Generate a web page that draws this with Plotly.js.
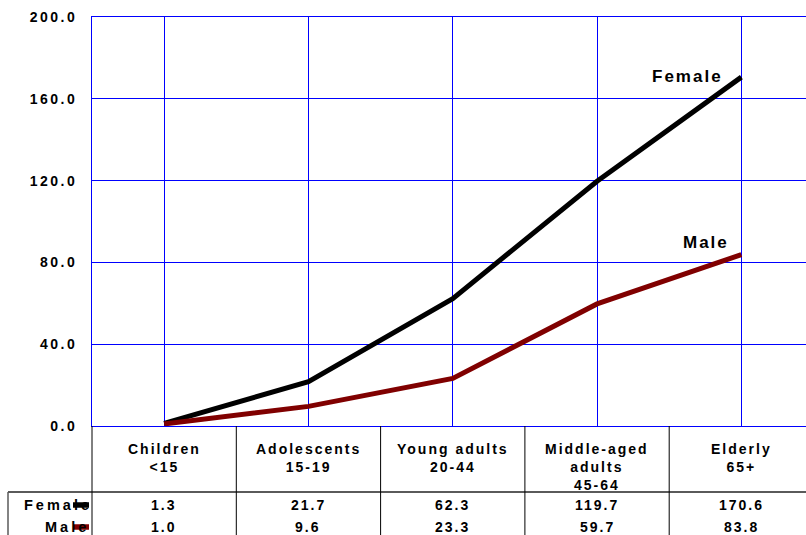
<!DOCTYPE html>
<html>
<head>
<meta charset="utf-8">
<script src="https://cdn.plot.ly/plotly-3.0.1.min.js"></script>
<style>
  html, body { margin: 0; padding: 0; background: #fff; }
  #chart { width: 806px; height: 535px; }
  .main-svg text { letter-spacing: 2px; }
  .ytick text { letter-spacing: 2.5px; }
  .rowlabel text, text.rowlabel { letter-spacing: 3px; }
</style>
</head>
<body>
<div id="chart"></div>
<script>
// ---- data ----
const categories = ['Children<br>&lt;15', 'Adolescents<br>15-19', 'Young adults<br>20-44', 'Middle-aged<br>adults<br>45-64', 'Elderly<br>65+'];
const seriesNames = ['Female', 'Male'];
const female = [1.3, 21.7, 62.3, 119.7, 170.6];
const male = [1.0, 9.6, 23.3, 59.7, 83.8];
const yTicks = [0, 40, 80, 120, 160, 200];

// ---- layout helpers ----
const W = 806, H = 535;
const M = {l: 92, r: 0, t: 17, b: 109};
const plotW = W - M.l - M.r, plotH = H - M.t - M.b;
const xRange = [-0.5, -0.5 + plotW / 144.3];
const xToPaper = v => (v - xRange[0]) / (xRange[1] - xRange[0]);
const pxToPaper = px => (px - M.l) / plotW;
const pyToPaper = py => (H - M.b - py) / plotH;

const colors = {Female: '#000000', Male: '#800000'};
const font = (size, color) => ({family: 'Liberation Sans, Arial, sans-serif', size: size, color: color || '#000', weight: 'bold'});

const traces = [
  {x: categories, y: female, name: seriesNames[0], type: 'scatter', mode: 'lines',
   line: {color: colors.Female, width: 5}, hoverinfo: 'skip', cliponaxis: false},
  {x: categories, y: male, name: seriesNames[1], type: 'scatter', mode: 'lines',
   line: {color: colors.Male, width: 5}, hoverinfo: 'skip', cliponaxis: false}
];

const annotations = [];
// series labels near line ends
annotations.push({x: categories[4], y: female[4], xref: 'x', yref: 'y', text: 'Female',
  showarrow: false, xanchor: 'right', yanchor: 'middle', xshift: -22, yshift: 1, font: font(17)});
annotations.push({x: categories[4], y: male[4], xref: 'x', yref: 'y', text: 'Male',
  showarrow: false, xanchor: 'right', yanchor: 'middle', xshift: -14, yshift: 12, font: font(17)});

// table header (category labels)
categories.forEach((c, i) => {
  annotations.push({x: c, xref: 'x', y: pyToPaper(439), yref: 'paper', text: c,
    showarrow: false, xanchor: 'center', yanchor: 'top', align: 'center', font: font(14)});
});
// table rows
const rows = [[seriesNames[0], female, 505], [seriesNames[1], male, 527]];
rows.forEach(([name, vals, py]) => {
  annotations.push({x: pxToPaper(85), xref: 'paper', y: pyToPaper(py), yref: 'paper', text: name,
    showarrow: false, xanchor: 'right', yanchor: 'middle', font: font(14.5), name: 'rowlabel'});
  vals.forEach((v, i) => {
    annotations.push({x: categories[i], xref: 'x', y: pyToPaper(py), yref: 'paper', text: v.toFixed(1),
      showarrow: false, xanchor: 'center', yanchor: 'middle', font: font(14)});
  });
});

const shapes = [];
// horizontal table separator
shapes.push({type: 'line', xref: 'paper', yref: 'paper', x0: pxToPaper(8), x1: 1,
  y0: pyToPaper(492), y1: pyToPaper(492), line: {color: '#5a5a5a', width: 2}});
// left border of row labels
shapes.push({type: 'line', xref: 'paper', yref: 'paper', x0: pxToPaper(8), x1: pxToPaper(8),
  y0: pyToPaper(492), y1: pyToPaper(540), line: {color: '#5a5a5a', width: 1.5}});
// column separators
for (let i = -1; i < categories.length - 1; i++) {
  const xp = xToPaper(i + 0.5);
  shapes.push({type: 'line', xref: 'paper', yref: 'paper', x0: xp, x1: xp,
    y0: 0, y1: pyToPaper(540), line: {color: '#000', width: 1}});
}
// legend key samples in table
rows.forEach(([name, vals, py]) => {
  shapes.push({type: 'line', xref: 'paper', yref: 'paper', x0: pxToPaper(73), x1: pxToPaper(89),
    y0: pyToPaper(py), y1: pyToPaper(py), line: {color: colors[name], width: 5.5}});
});

const layout = {
  width: W, height: H,
  margin: M,
  paper_bgcolor: '#fff', plot_bgcolor: '#fff',
  showlegend: false,
  xaxis: {type: 'category', range: xRange, showgrid: true, gridcolor: '#0000ff', gridwidth: 1,
    showticklabels: false, ticks: '', showline: true, linecolor: '#0000ff', linewidth: 1, mirror: true,
    zeroline: false, fixedrange: true},
  yaxis: {range: [0, 200], tickvals: yTicks, tickformat: '.1f', showgrid: true, gridcolor: '#0000ff',
    gridwidth: 1, zeroline: true, zerolinecolor: '#0000ff', zerolinewidth: 1, showline: true,
    linecolor: '#0000ff', linewidth: 1, ticks: '', ticklabelstandoff: 11, tickfont: font(14), fixedrange: true},
  annotations: annotations,
  shapes: shapes
};

Plotly.newPlot('chart', traces, layout, {staticPlot: true, displayModeBar: false}).then(gd => {
  // wider letter spacing for the two row labels of the table
  gd.querySelectorAll('.annotation-text').forEach(t => {
    if (seriesNames.includes(t.textContent) && t.getAttribute('text-anchor') !== null) {
      const ann = t.closest('.annotation');
      const idx = ann ? +ann.getAttribute('data-index') : -1;
      if (idx >= 2) t.style.letterSpacing = '3px';
    }
  });
});
</script>
</body>
</html>
